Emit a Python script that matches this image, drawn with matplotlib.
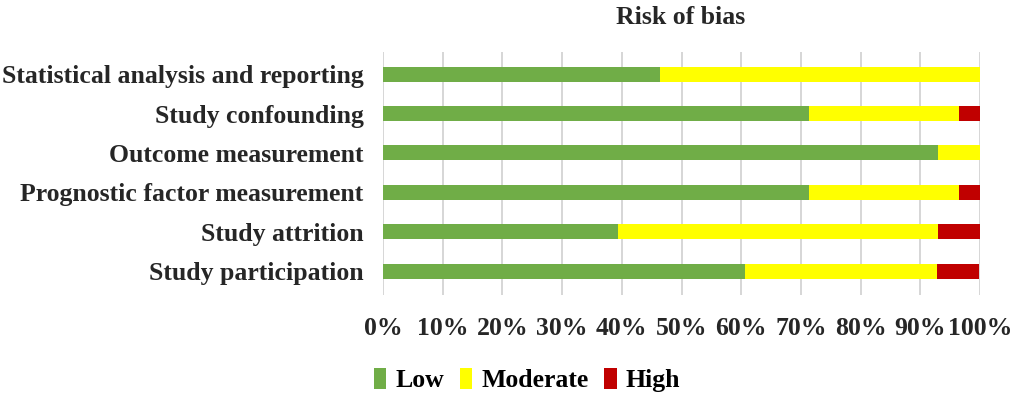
import numpy as np
import matplotlib
matplotlib.use("Agg")
import matplotlib.pyplot as plt
from matplotlib.ticker import PercentFormatter

categories = ["Statistical analysis and reporting", "Study confounding",
              "Outcome measurement", "Prognostic factor measurement",
              "Study attrition", "Study participation"]
low = [46.4, 71.4, 92.9, 71.4, 39.3, 60.7]
moderate = [53.6, 25.0, 7.1, 25.0, 53.6, 32.1]
high = [0.0, 3.6, 0.0, 3.6, 7.1, 7.1]
series_names = ["Low", "Moderate", "High"]
colors = ["#70AD47", "#FFFF00", "#C00000"]

plt.rcParams['font.family'] = ['Liberation Serif', 'DejaVu Serif']
plt.rcParams['font.weight'] = 'bold'
fs = 18.5
txt = "#262626"

fig = plt.figure(figsize=(10.13, 3.97), dpi=100)
ax = fig.add_axes([383 / 1013, 1 - 295 / 397, 597 / 1013, 243 / 397])

y = np.arange(len(categories))
left = np.zeros(len(categories))
for vals, name, c in zip([low, moderate, high], series_names, colors):
    ax.barh(y, vals, left=left, height=0.38, color=c, label=name, zorder=3)
    left += np.array(vals)

ax.set_xlim(0, 100)
ax.set_ylim(5.6, -0.56)
ax.set_yticks(y)
ax.set_yticklabels(categories, fontsize=fs, color=txt)
ax.set_xticks(np.arange(0, 101, 10))
ax.xaxis.set_major_formatter(PercentFormatter(decimals=0))
ax.tick_params(axis='x', length=0, pad=16, labelsize=fs, labelcolor=txt)
ax.tick_params(axis='y', length=0, pad=14)
ax.grid(axis='x', color="#d0d0d0", linewidth=1.2, zorder=0)
for s in ax.spines.values():
    s.set_visible(False)

fig.text(681 / 1013, 1 - 17 / 397, "Risk of bias", ha='center', va='center',
         fontsize=fs, color=txt)

fig.legend(loc='center', bbox_to_anchor=(527 / 1013, 1 - 380 / 397), ncol=3,
           frameon=False, fontsize=fs, handlelength=0.5, handleheight=0.9,
           handletextpad=0.35, columnspacing=0.6)

fig.savefig("out.png", dpi=100)
